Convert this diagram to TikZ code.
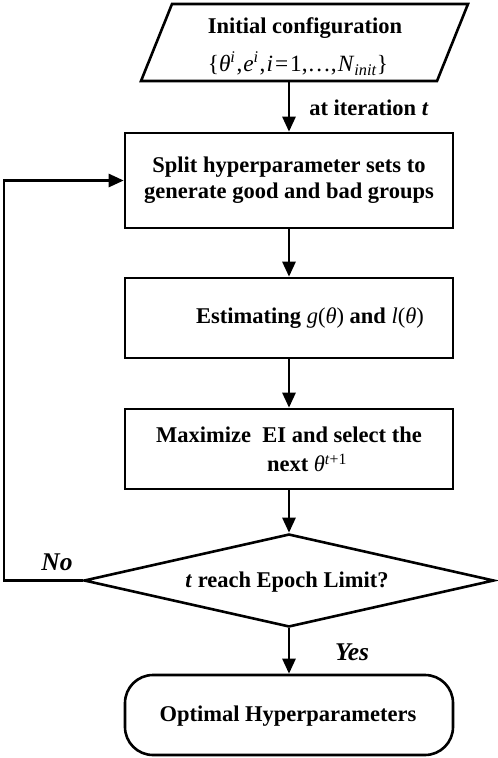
\documentclass[tikz,border=0pt]{standalone}
\usepackage{fontspec}
\setmainfont{Liberation Serif}
\usetikzlibrary{arrows.meta,shapes.geometric}
\newcommand{\mi}[1]{\textit{\mdseries #1}}
\newcommand{\mup}[1]{{\mdseries #1}}
\begin{document}
\begin{tikzpicture}[x=1pt,y=-1pt,line width=2.6pt,
  txt/.style={font=\fontsize{22.5}{26}\selectfont\bfseries, inner sep=0pt},
  lbl/.style={font=\fontsize{25.5}{28}\selectfont\bfseries\itshape, inner sep=0pt},
  procbox/.style={draw, rectangle, minimum width=328pt, inner sep=0pt},
  termbox/.style={draw, rectangle, rounded corners=28pt, minimum width=328pt, minimum height=80pt, inner sep=0pt},
  decbox/.style={draw, diamond, minimum width=410pt, minimum height=93pt, inner sep=0pt},
  arr/.style={-{Triangle[length=15pt,width=13pt]}}]
\useasboundingbox (0,0) rectangle (498,758);
% parallelogram
\draw (172,4) -- (468,4) -- (437,81) -- (141,81) -- cycle;
\node[txt] (inittitle) at (305,28) {Initial configuration};
\node[txt, font=\fontsize{23.3}{26}\selectfont\mdseries] (initset) at (298,64)
  {\{\textit{θ}\textsuperscript{\textit{i}}\kern1pt,\kern1pt\textit{e}\textsuperscript{\textit{i}}\kern1pt,\kern1pt\textit{i}\kern2pt=\kern2pt1,…,\kern1pt\textit{N}\textsubscript{\textit{init}}\}};
\coordinate (initout) at (289,81);
% boxes
\node[procbox, minimum height=95pt] (split) at (289,180.5) {};
\node[txt, align=center] (splittxt) at (split) {Split hyperparameter sets to\\generate good and bad groups};
\node[procbox, minimum height=80pt] (est) at (289,318) {};
\node[txt] (esttxt) at (310,318) {Estimating \mi{g}\mup{(}\mi{θ}\mup{)} and \mi{l}\mup{(}\mi{θ}\mup{)}};
\node[procbox, minimum height=80pt] (maxei) at (289,449) {};
\node[txt] (maxtxta) at (289,435) {Maximize\ \ EI and select the};
\node[txt] (maxtxtb) at (307,463) {next \mi{θ}\textsuperscript{\mi{t}\mdseries+1}};
\node[decbox] (dec) at (289,580.5) {};
\node[txt] (dectxt) at (287,582) {\textit{t} reach Epoch Limit?};
\node[termbox] (opt) at (289,715) {};
\node[txt] (opttxt) at (288,716) {Optimal Hyperparameters};
% labels
\node[txt] (iterlbl) at (369,108) {at iteration \textit{t}};
\node[lbl] (nolbl) at (57,562) {No};
\node[lbl] (yeslbl) at (352,652) {Yes};
% connectors
\draw[arr] (initout) -- (initout |- split.north);
\draw[arr] (split.south) -- (est.north);
\draw[arr] (est.south) -- (maxei.north);
\draw[arr] (maxei.south) -- (dec.north);
\draw[arr] (dec.south) -- (opt.north);
\coordinate (loopc) at (4,580.5);
\draw[arr] (dec.west) -- (loopc) |- (split.west);
\end{tikzpicture}
\end{document}
